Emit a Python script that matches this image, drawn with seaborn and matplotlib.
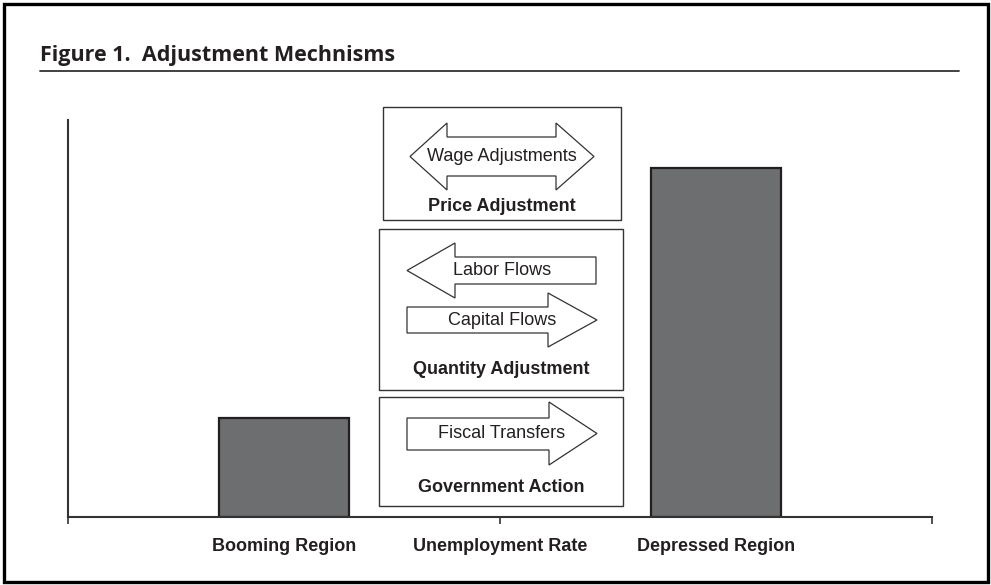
import numpy as np
import pandas as pd
import matplotlib.pyplot as plt
import seaborn as sns
from matplotlib.patches import Polygon, Rectangle
from matplotlib.lines import Line2D
from matplotlib.transforms import Affine2D

# Chart data
regions = ["Booming Region", "Depressed Region"]
region_pos = [2.5, 7.5]
unemployment = [25, 88]
axis_ticks = [0, 5, 10]
axis_title = "Unemployment Rate"
title = "Figure 1.  Adjustment Mechnisms"

# Diagram labels
box_titles = ["Price Adjustment", "Quantity Adjustment", "Government Action"]
arrow_labels = ["Wage Adjustments", "Labor Flows", "Capital Flows", "Fiscal Transfers"]

sns.set_style("white")
plt.rcParams['font.family'] = ['Liberation Sans', 'DejaVu Sans']

W, H = 991, 585
DARK = "#231f20"
BAR = "#6d6e70"
FS = 13

fig = plt.figure(figsize=(W / 100, H / 100), dpi=100)
ax = fig.add_axes([68 / W, 1 - 517 / H, (932 - 68) / W, (517 - 120) / H])

df = pd.DataFrame({"pos": region_pos, "rate": unemployment})
sns.barplot(data=df, x="pos", y="rate", native_scale=True, width=0.3,
            color=BAR, saturation=1, edgecolor=DARK, linewidth=1.6,
            errorbar=None, ax=ax)

ax.set_xlim(0, 10)
ax.set_ylim(0, 100)
ax.set_xlabel("")
ax.set_ylabel("")
ax.set_yticks([])
for side in ["top", "right"]:
    ax.spines[side].set_visible(False)
for side in ["left", "bottom"]:
    ax.spines[side].set_color("#333333")
    ax.spines[side].set_linewidth(1.5)

ax.set_xticks(axis_ticks, labels=["", axis_title, ""])
ax.set_xticks(region_pos, labels=regions, minor=True)
ax.tick_params(axis="x", which="major", bottom=True, length=5, width=1.2,
               color="#333333", direction="out", pad=10)
ax.tick_params(axis="x", which="minor", bottom=True, length=0, pad=15)
for lab in ax.get_xticklabels(which="both"):
    lab.set_fontweight("bold")
    lab.set_fontsize(FS)
    lab.set_color(DARK)

# pixel coordinates (top-left origin) -> figure
T = Affine2D().scale(1 / W, -1 / H).translate(0, 1) + fig.transFigure


def right_arrow(x0, x1, hb, bt, bb, ht, hbot):
    mid = (ht + hbot) / 2
    return [(x0, bt), (hb, bt), (hb, ht), (x1, mid), (hb, hbot), (hb, bb), (x0, bb)]


def left_arrow(x0, x1, hb, bt, bb, ht, hbot):
    mid = (ht + hbot) / 2
    return [(x1, bt), (hb, bt), (hb, ht), (x0, mid), (hb, hbot), (hb, bb), (x1, bb)]


def double_arrow(x0, x1, lb, rb, bt, bb, ht, hbot):
    mid = (ht + hbot) / 2
    return [(x0, mid), (lb, ht), (lb, bt), (rb, bt), (rb, ht), (x1, mid),
            (rb, hbot), (rb, bb), (lb, bb), (lb, hbot)]


boxes = [(383, 107, 621, 220, 206), (379, 229, 623, 390, 370), (379, 397, 623, 506, 488)]
for (x0, y0, x1, y1, ty), name in zip(boxes, box_titles):
    fig.patches.append(Rectangle((x0, y0), x1 - x0, y1 - y0, transform=T,
                                 facecolor="white", edgecolor="#333333", lw=1.0))
    fig.text((x0 + x1) / 2 / W, 1 - ty / H, name, ha="center", va="center",
             fontsize=FS, fontweight="bold", color=DARK)

arrows = [
    (double_arrow(410, 594, 447, 556, 137, 176, 123, 190), 156.5),
    (left_arrow(407, 596, 455, 257, 284, 243, 298), 270.5),
    (right_arrow(407, 597, 548, 307, 333, 293, 347), 320),
    (right_arrow(407, 597, 549, 418, 450, 402, 465), 434),
]
for (pts, ty), name in zip(arrows, arrow_labels):
    fig.patches.append(Polygon(pts, closed=True, transform=T, facecolor="white",
                               edgecolor="#333333", lw=0.9))
    fig.text(502 / W, 1 - ty / H, name, ha="center", va="center",
             fontsize=FS, color=DARK)

# title and rule
fig.text(40 / W, 1 - 61 / H, title, ha="left", va="baseline",
         fontsize=15.5, fontweight="bold", family=["Open Sans", "DejaVu Sans"], color=DARK)
fig.lines.append(Line2D([40, 959], [71, 71], transform=T, color="#333333", lw=1.3))

# outer frame
fig.patches.append(Rectangle((4, 4), 984, 578, transform=T, fill=False,
                             edgecolor="black", lw=2.4))

fig.savefig("out.png", dpi=100)
